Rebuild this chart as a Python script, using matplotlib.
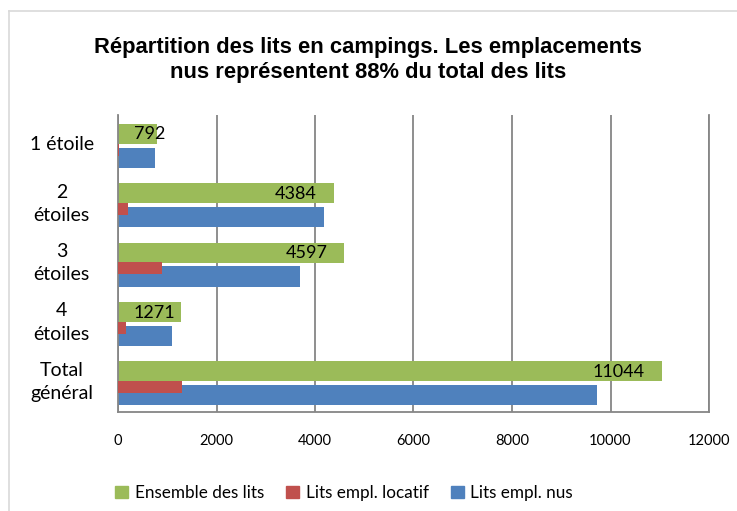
import matplotlib
matplotlib.use("Agg")
import matplotlib.pyplot as plt
from matplotlib.lines import Line2D
from matplotlib.patches import Patch

# data
categories = ["1 étoile", "2\nétoiles", "3\nétoiles", "4\nétoiles", "Total\ngénéral"]
ensemble = [792, 4384, 4597, 1271, 11044]
locatif = [30, 205, 885, 160, 1300]
nus = [745, 4175, 3705, 1100, 9720]
xticks = [0, 2000, 4000, 6000, 8000, 10000, 12000]

GREEN = "#9BBB59"
RED = "#C0504D"
BLUE = "#4F81BD"
GRID = "#868686"
BODY_FONT = "Lato"


def main():
    W, H = 737, 511
    fig = plt.figure(figsize=(W / 100, H / 100), dpi=100)
    ax = fig.add_axes([118 / W, 1 - 412 / H, (709 - 118) / W, (412 - 115) / H])

    ys = list(range(len(categories)))
    ax.barh([y - 0.185 for y in ys], ensemble, height=0.337, color=GREEN, zorder=2)
    ax.barh([y + 0.219 for y in ys], nus, height=0.337, color=BLUE, zorder=2)
    ax.barh([y + 0.084 for y in ys], locatif, height=0.202, color=RED, zorder=3)

    # data labels on the "ensemble" bars (inside end, pushed right when too short)
    for y, v in zip(ys, ensemble):
        if v < 2000:
            ax.annotate(str(v), xy=(0, y - 0.175), xytext=(11.5, 0), textcoords="offset points",
                        ha="left", va="center", fontsize=13, family=BODY_FONT, zorder=4)
        else:
            ax.annotate(str(v), xy=(v, y - 0.175), xytext=(-12.2, 0), textcoords="offset points",
                        ha="right", va="center", fontsize=13, family=BODY_FONT, zorder=4)

    ax.set_xlim(0, 12000)
    ax.set_ylim(len(categories) - 0.5, -0.5)
    ax.set_xticks(xticks)
    ax.set_xticklabels([str(t) for t in xticks], fontsize=10.5, family=BODY_FONT)
    ax.set_yticks(ys)
    ax.set_yticklabels([])
    ax.tick_params(axis="y", length=0)
    ax.tick_params(axis="x", length=0, pad=16)

    # category labels, centred in a column left of the axis
    for y, cat in zip(ys, categories):
        dy = -0.005 if "\n" in cat else 0
        ax.text(-0.095, y + dy, cat, transform=ax.get_yaxis_transform(),
                ha="center", va="center", multialignment="center",
                fontsize=14, family=BODY_FONT, linespacing=1.45)

    ax.grid(axis="x", color=GRID, linewidth=1.3, zorder=0)
    ax.set_axisbelow(True)
    for side in ["left", "bottom", "right"]:
        ax.spines[side].set_color(GRID)
        ax.spines[side].set_linewidth(1.3)
    ax.spines["top"].set_visible(False)

    fig.text(368 / W, 1 - 60 / H,
             "Répartition des lits en campings. Les emplacements\nnus représentent 88% du total des lits",
             ha="center", va="center", fontsize=15.8, fontweight="bold",
             family="Liberation Sans", linespacing=1.25)

    handles = [Patch(color=GREEN), Patch(color=RED), Patch(color=BLUE)]
    fig.legend(handles, ["Ensemble des lits", "Lits empl. locatif", "Lits empl. nus"],
               loc="center", bbox_to_anchor=(344 / W, 1 - 493 / H), ncol=3, frameon=False,
               prop={"family": BODY_FONT, "size": 12.3}, handlelength=0.75, handleheight=0.75,
               handletextpad=0.4, columnspacing=1.3)

    # chart area border (cropped on right and bottom)
    fig.add_artist(Line2D([9 / W, 1], [1 - 11 / H, 1 - 11 / H], color="#d9d9d9", linewidth=1.2))
    fig.add_artist(Line2D([9 / W, 9 / W], [0, 1 - 11 / H], color="#d9d9d9", linewidth=1.2))

    fig.savefig("out.png", dpi=100)
    plt.close(fig)


if __name__ == "__main__":
    main()
